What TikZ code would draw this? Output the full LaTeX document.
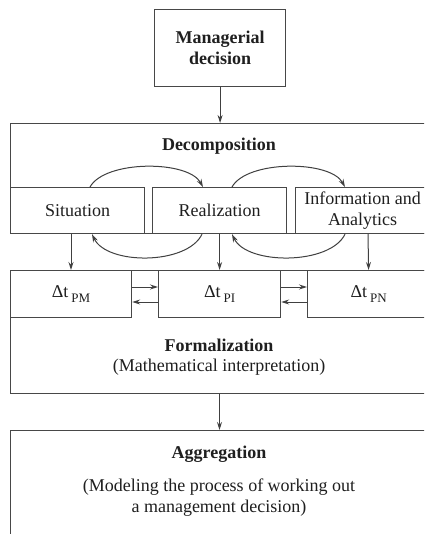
\documentclass[tikz,border=0pt]{standalone}
\usepackage{fontspec}
\setmainfont{Liberation Serif}
\usetikzlibrary{arrows.meta,calc}
\begin{document}
\begin{tikzpicture}[x=1pt,y=-1pt,
  box/.style={draw=black!72,line width=1.2pt,inner sep=0pt,anchor=north west},
  txt/.style={font=\fontsize{18}{21}\selectfont,align=center,text=black!88},
  btxt/.style={font=\fontsize{18}{21}\selectfont\bfseries,align=center,text=black!88},
  arr/.style={draw=black!75,line width=1pt,-{Stealth[length=8pt,width=5pt]}}]
\useasboundingbox (0,0) rectangle (424,534);
\clip (0,0) rectangle (424,534);
\fill[white] (0,0) rectangle (424,534);
\newcommand{\dsub}[1]{\,\raisebox{-5pt}{\fontsize{13}{13}\selectfont #1}}
% top box
\node[box,btxt,minimum width=131,minimum height=77] (md) at (154,9) {Managerial\\decision};
\coordinate (cx) at (219.5,0);
% decomposition
\node[box,minimum width=430,minimum height=110] (dec) at (10,123) {};
\node[btxt] (dect) at (219,146) {Decomposition};
\node[box,txt,minimum width=134,minimum height=46] (sit) at (10,187) {Situation};
\node[box,txt,minimum width=134,minimum height=46] (real) at (152,187) {Realization};
\node[box,txt,minimum width=134,minimum height=46] (info) at (295,187) {Information and\\Analytics};
\draw[draw=black!72,line width=1.2pt] (info.north east) -- ++(20,0) (info.south east) -- ++(20,0);
% formalization
\node[box,minimum width=430,minimum height=123] (form) at (10,270) {};
\node[box,txt,minimum width=121,minimum height=47] (dpm) at (10,270) {Δt\dsub{PM}};
\node[box,txt,minimum width=122,minimum height=47] (dpi) at (158,270) {Δt\dsub{PI}};
\node[box,txt,minimum width=122,minimum height=47] (dpn) at (307,270) {Δt\dsub{PN}};
\node[btxt] (formt) at (219,345) {Formalization};
\node[txt] (formt2) at (219,367) {(Mathematical interpretation)};
% aggregation
\node[box,minimum width=430,minimum height=130] (agg) at (10,430) {};
\node[btxt] (aggt) at (219,454) {Aggregation};
\node[txt] (aggt2) at (219,498) {(Modeling the process of working out\\a management decision)};
% vertical arrows
\draw[arr] (md.south) -- (md.south |- dec.north);
\draw[arr] ($(sit.south west)+(61,0)$) -- ($(dpm.north west)+(61,0)$);
\draw[arr] (real.south) -- (real.south |- dpi.north);
\draw[arr] ($(info.south west)+(73,0)$) -- (dpn.north);
\draw[arr] (cx |- form.south) -- (cx |- agg.north);
% curved arrows
\draw[arr] ($(sit.north west)+(80,0)$) .. controls +(15,-27) and +(-15,-27) .. ($(real.north west)+(51,0)$);
\draw[arr] ($(real.north west)+(80,0)$) .. controls +(15,-27) and +(-15,-27) .. ($(info.north west)+(50,0)$);
\draw[arr] ($(real.south west)+(50,0)$) .. controls +(-15,31) and +(15,31) .. ($(sit.south west)+(82,0)$);
\draw[arr] ($(info.south west)+(50,0)$) .. controls +(-15,31) and +(15,31) .. ($(real.south west)+(80,0)$);
% horizontal arrows
\draw[arr] ($(dpm.north east)+(0,17)$) -- ($(dpi.north west)+(0,17)$);
\draw[arr] ($(dpi.north west)+(0,32)$) -- ($(dpm.north east)+(0,32)$);
\draw[arr] ($(dpi.north east)+(0,17)$) -- ($(dpn.north west)+(0,17)$);
\draw[arr] ($(dpn.north west)+(0,32)$) -- ($(dpi.north east)+(0,32)$);
\end{tikzpicture}
\end{document}
